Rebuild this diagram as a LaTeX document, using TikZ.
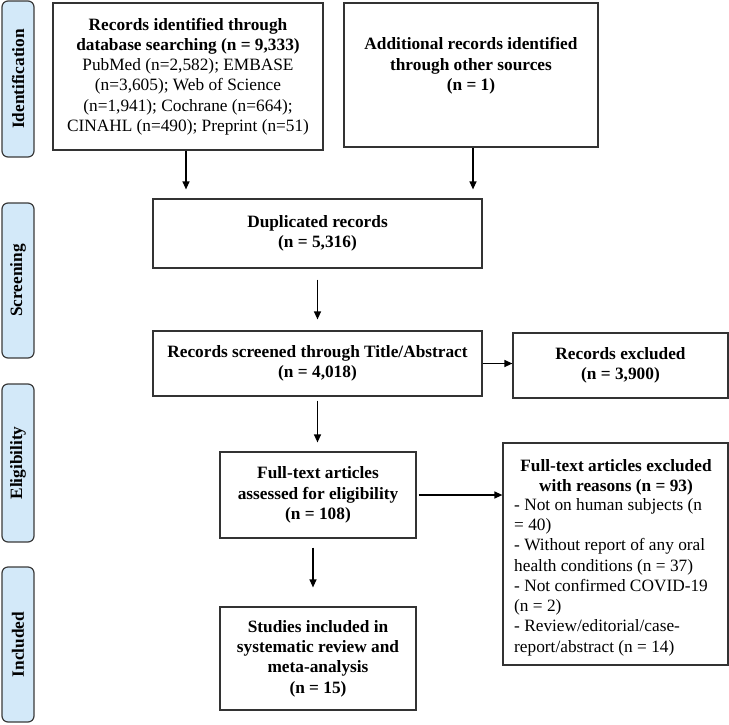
\documentclass[tikz,border=0pt]{standalone}
\usepackage{fontspec}
\setmainfont{Liberation Serif}
\usetikzlibrary{arrows.meta}
\definecolor{boxc}{HTML}{333333}
\definecolor{sidec}{HTML}{3A3A3A}
\definecolor{sidefill}{HTML}{D3E9F9}
\begin{document}
\begin{tikzpicture}[x=1pt,y=-1pt,
  box/.style={draw=boxc, line width=1.2pt, inner sep=0pt, align=center,
    font=\fontsize{17.3}{20.3}\selectfont},
  txt/.style={inner sep=0pt, align=center, font=\fontsize{17.3}{20.3}\selectfont},
  btxt/.style={inner sep=0pt, align=center, font=\fontsize{17.3}{20.3}\selectfont\bfseries},
  side/.style={draw=sidec, fill=sidefill, rounded corners=6pt, line width=1.2pt,
    rotate=90, inner sep=0pt, font=\fontsize{17.3}{20}\selectfont\bfseries},
  arr/.style={-{Triangle[length=8pt,width=7pt]}, line width=1.2pt}
]
\useasboundingbox (0,0) rectangle (729,724);

% side labels
\node[side, minimum width=156pt, minimum height=32pt] (sid) at (18,79) {Identification};
\node[side, minimum width=155pt, minimum height=32pt] (sscr) at (18,280.5) {Screening};
\node[side, minimum width=158pt, minimum height=32pt] (selig) at (18,463) {Eligibility};
\node[side, minimum width=155pt, minimum height=32pt] (sinc) at (18,644.5) {Included};

% boxes
\node[box, minimum width=270pt, minimum height=147pt] (rec) at (188,76.5)
  {\textbf{Records identified through}\\\textbf{database searching (n = 9,333)}\\PubMed (n=2,582); EMBASE\\(n=3,605); Web of Science\\(n=1,941); Cochrane (n=664);\\CINAHL (n=490); Preprint (n=51)};
\node[box, minimum width=254pt, minimum height=144pt] (add) at (471,75) {};
\node[btxt] (addt) at (471,66) {Additional records identified\\through other sources\\(n = 1)};

\node[box, font=\fontsize{17.3}{20.3}\selectfont\bfseries, minimum width=329pt, minimum height=69pt] (dup) at (317.5,233.5)
  {Duplicated records\\(n = 5,316)};
\node[box, font=\fontsize{17.3}{20.3}\selectfont\bfseries, minimum width=329pt, minimum height=65pt] (scr) at (317.5,363.5)
  {Records screened through Title/Abstract\\(n = 4,018)};
\node[box, font=\fontsize{17.3}{20.3}\selectfont\bfseries, minimum width=215pt, minimum height=65pt] (excl) at (620.5,365.5)
  {Records excluded\\(n = 3,900)};
\node[box, font=\fontsize{17.3}{20.3}\selectfont\bfseries, minimum width=196pt, minimum height=86pt] (full) at (318,495)
  {Full-text articles\\assessed for eligibility\\(n = 108)};
\node[box, minimum width=225pt, minimum height=222pt] (fx) at (615.5,554) {};
\node[btxt] (fxh) at (616,477) {Full-text articles excluded\\with reasons (n = 93)};
\node[txt, align=left, anchor=west] (fxl) at (514,577)
  {- Not on human subjects (n\\= 40)\\- Without report of any oral\\health conditions (n = 37)\\- Not confirmed COVID-19\\(n = 2)\\- Review/editorial/case-\\report/abstract (n = 14)};
\node[box, font=\fontsize{17.3}{20.3}\selectfont\bfseries, minimum width=196pt, minimum height=103pt] (stud) at (318,658.5)
  {Studies included in\\systematic review and\\meta-analysis\\(n = 15)};

% connectors
\draw[arr, shorten >=9pt] ([xshift=-2pt]rec.south) -- ([xshift=-2pt]rec.south |- dup.north);
\draw[arr, shorten >=9pt] ([xshift=2pt]add.south) -- ([xshift=2pt]add.south |- dup.north);
\draw[arr, shorten <=11pt, shorten >=11pt] (dup.south) -- (scr.north);
\draw[arr] (scr.east) -- (scr.east -| excl.west);
\draw[arr, shorten <=4pt, shorten >=9pt] (scr.south) -- (scr.south |- full.north);
\draw[arr, shorten <=2pt] (full.east) -- (full.east -| fx.west);
\draw[arr, shorten <=9pt, shorten >=19pt] ([xshift=-5pt]full.south) -- ([xshift=-5pt]stud.north);
\end{tikzpicture}
\end{document}
